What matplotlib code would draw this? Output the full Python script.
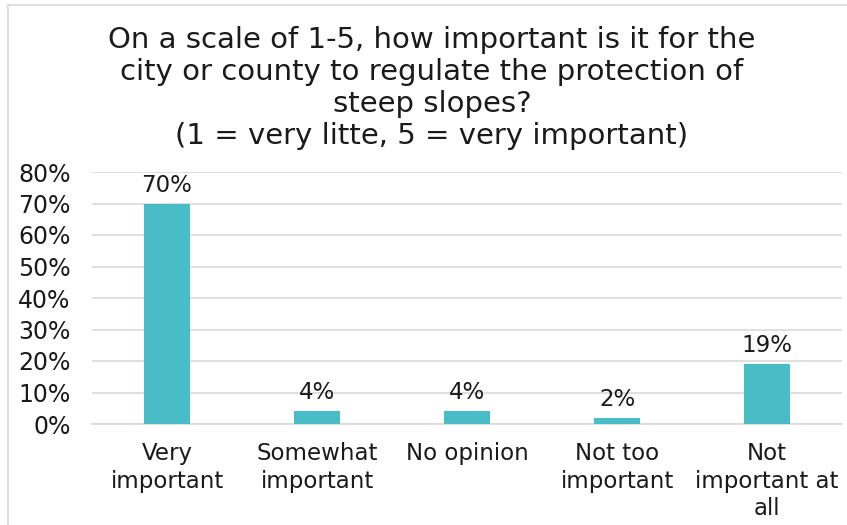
import matplotlib
matplotlib.use("Agg")
import matplotlib.pyplot as plt
from matplotlib.lines import Line2D
from matplotlib.ticker import PercentFormatter

categories = ["Very\nimportant", "Somewhat\nimportant", "No opinion", "Not too\nimportant", "Not\nimportant at\nall"]
values = [70, 4, 4, 2, 19]
value_labels = ["70%", "4%", "4%", "2%", "19%"]
yticks = [0, 10, 20, 30, 40, 50, 60, 70, 80]
title = ("On a scale of 1-5, how important is it for the\n"
         "city or county to regulate the protection of\n"
         "steep slopes?\n"
         "(1 = very litte, 5 = very important)")

plt.rcParams['font.family'] = ['DejaVu Sans']

W, H = 847, 525
fig = plt.figure(figsize=(W / 100, H / 100), dpi=100)
fig.patch.set_facecolor("white")

# chart border (light gray, top and left visible)
fig.add_artist(Line2D([8 / W, 1.0], [1 - 5 / H, 1 - 5 / H], transform=fig.transFigure,
                      color="#D9D9D9", lw=1.2))
fig.add_artist(Line2D([8 / W, 8 / W], [0, 1 - 5 / H], transform=fig.transFigure,
                      color="#D9D9D9", lw=1.2))

left, right = 92 / W, 842 / W
bottom, top = 1 - 424 / H, 1 - 172 / H
ax = fig.add_axes([left, bottom, right - left, top - bottom])

x = list(range(len(categories)))
bars = ax.bar(x, values, width=0.31, color="#48BCC7", zorder=3)
ax.set_xlim(-0.5, len(categories) - 0.5)
ax.set_ylim(0, 80)
ax.set_yticks(yticks)
ax.yaxis.set_major_formatter(PercentFormatter(decimals=0))
ax.grid(axis="y", color="#D9D9D9", lw=1.2, zorder=0)
for s in ["top", "right", "left"]:
    ax.spines[s].set_visible(False)
ax.spines["bottom"].set_color("#D9D9D9")
ax.spines["bottom"].set_linewidth(1.2)
ax.tick_params(axis="x", length=0, labelsize=16.5, colors="#1a1a1a", pad=13)
ax.tick_params(axis="y", length=0, labelsize=17, colors="#1a1a1a", pad=15.5)
ax.set_xticks(x)
ax.set_xticklabels(categories, linespacing=1.25)

for b, lab in zip(bars, value_labels):
    ax.annotate(lab, (b.get_x() + b.get_width() / 2, b.get_height()),
                xytext=(0, 5), textcoords="offset points",
                ha="center", va="bottom", fontsize=16.5, color="#1a1a1a")

fig.text(432 / W, 1 - 88 / H, title, ha="center", va="center", fontsize=21,
         color="#1a1a1a", linespacing=1.17)

fig.savefig("out.png", dpi=100)
